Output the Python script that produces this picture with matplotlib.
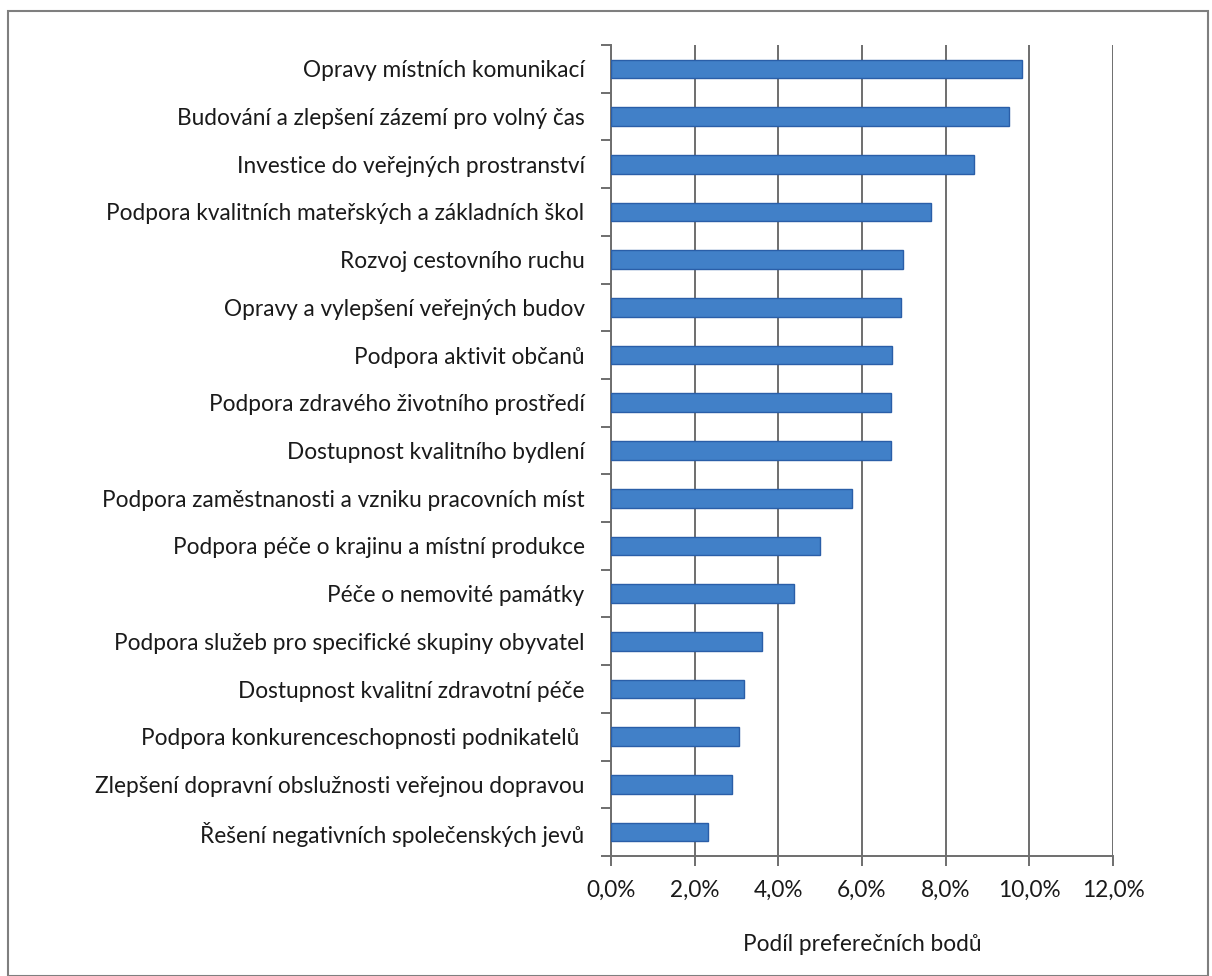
import matplotlib.pyplot as plt
from matplotlib.patches import Rectangle
from matplotlib.ticker import FuncFormatter, FixedLocator

categories = [
    "Opravy místních komunikací",
    "Budování a zlepšení zázemí pro volný čas",
    "Investice do veřejných prostranství",
    "Podpora kvalitních mateřských a základních škol",
    "Rozvoj cestovního ruchu",
    "Opravy a vylepšení veřejných budov",
    "Podpora aktivit občanů",
    "Podpora zdravého životního prostředí",
    "Dostupnost kvalitního bydlení",
    "Podpora zaměstnanosti a vzniku pracovních míst",
    "Podpora péče o krajinu a místní produkce",
    "Péče o nemovité památky",
    "Podpora služeb pro specifické skupiny obyvatel",
    "Dostupnost kvalitní zdravotní péče",
    "Podpora konkurenceschopnosti podnikatelů ",
    "Zlepšení dopravní obslužnosti veřejnou dopravou",
    "Řešení negativních společenských jevů",
]
shares = [0.0983, 0.0952, 0.0867, 0.0766, 0.0698, 0.0693, 0.0672, 0.0670,
          0.0670, 0.0577, 0.0500, 0.0438, 0.0360, 0.0317, 0.0306, 0.0289,
          0.0233]
x_ticks = [0.0, 0.02, 0.04, 0.06, 0.08, 0.10, 0.12]

plt.rcParams['font.family'] = ['Lato', 'DejaVu Sans']
txt = '#1a1a1a'
fs = 16.3

fig = plt.figure(figsize=(12.12, 9.76), dpi=100)
fig.patches.append(Rectangle((8 / 1212, 0), 1 - 12 / 1212, 1 - 11 / 976,
                             transform=fig.transFigure, fill=False,
                             edgecolor='#7f7f7f', linewidth=1.5))
ax = fig.add_axes([611 / 1212, 1 - 856 / 976, (1113 - 611) / 1212, (856 - 45) / 976])

pos = list(range(len(categories)))
ax.barh(pos, shares, height=0.39, color='#4180c8', edgecolor='#2a5ea8',
        linewidth=1.0, zorder=3)

ax.set_xlim(0, 0.12)
ax.set_ylim(len(categories) - 0.5, -0.5)

ax.xaxis.set_major_locator(FixedLocator(x_ticks))
ax.xaxis.set_major_formatter(FuncFormatter(lambda v, p: f"{v * 100:.1f}%".replace('.', ',')))
ax.set_yticks(pos)
ax.set_yticklabels(categories)
ax.set_yticks([p - 0.5 for p in pos] + [len(pos) - 0.5], minor=True)

ax.grid(axis='x', color='#6e6e6e', linewidth=1.4, zorder=0)
for s in ['top', 'right']:
    ax.spines[s].set_visible(False)
for s in ['left', 'bottom']:
    ax.spines[s].set_color('#6e6e6e')
    ax.spines[s].set_linewidth(1.4)

ax.tick_params(axis='y', which='major', length=0, pad=19, labelsize=fs, labelcolor=txt)
ax.tick_params(axis='y', which='minor', length=7, color='#6e6e6e', width=1.4)
ax.tick_params(axis='x', which='major', length=7, color='#6e6e6e', width=1.4,
               pad=10, labelsize=fs, labelcolor=txt)

ax.set_xlabel("Podíl preferečních bodů", fontsize=fs, color=txt, labelpad=24)

fig.savefig("out.png", dpi=100)
